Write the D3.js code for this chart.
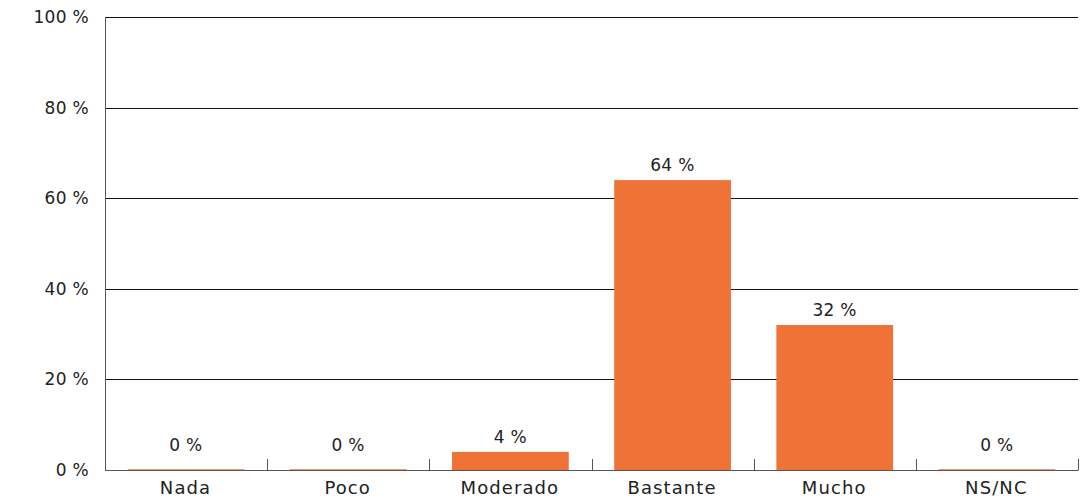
<!DOCTYPE html>
<html><head><meta charset="utf-8">
<script src="https://cdn.jsdelivr.net/npm/d3@7"></script>
<style>body{margin:0;background:#fff}svg{display:block}text{font-family:"DejaVu Sans",sans-serif;fill:#222}</style>
</head><body>
<svg id="c" width="1084" height="499"></svg>
<script>
const categories = ["Nada","Poco","Moderado","Bastante","Mucho","NS/NC"];
const values = [0,0,4,64,32,0];
const yTicks = [0,20,40,60,80,100];

const svg = d3.select("#c");
const m = {l:105, r:1078, t:17, b:470};
const x = d3.scaleBand().domain(categories).range([m.l, m.r]).paddingInner(0.28).paddingOuter(0.14);
const y = d3.scaleLinear().domain([0,100]).range([m.b, m.t]);
const fs = 17;

// gridlines
svg.append("g").selectAll("line").data(yTicks.filter(d=>d>0)).join("line")
  .attr("x1", m.l).attr("x2", m.r)
  .attr("y1", d=>Math.round(y(d))+0.5).attr("y2", d=>Math.round(y(d))+0.5)
  .attr("stroke", "#111").attr("stroke-width", 1);

// y labels
svg.append("g").selectAll("text").data(yTicks).join("text")
  .attr("x", 89).attr("y", d=>y(d)).attr("dy","0.35em")
  .attr("text-anchor","end").attr("font-size", fs).attr("letter-spacing", 0.3)
  .text(d=>d+" %");

// left axis line
svg.append("line").attr("x1", m.l+0.5).attr("x2", m.l+0.5).attr("y1", m.t).attr("y2", m.b)
  .attr("stroke","#555").attr("stroke-width",1);

// bottom axis
svg.append("line").attr("x1", m.l).attr("x2", m.r+0.5).attr("y1", m.b+0.5).attr("y2", m.b+0.5)
  .attr("stroke","#555").attr("stroke-width",1.2);
const step = (m.r - m.l)/categories.length;
svg.append("g").selectAll("line").data(categories.map((c,i)=>i+1)).join("line")
  .attr("x1", i=>Math.round(m.l + i*step)+0.5).attr("x2", i=>Math.round(m.l + i*step)+0.5)
  .attr("y1", m.b-11).attr("y2", m.b)
  .attr("stroke","#555").attr("stroke-width",1);

// bars
svg.append("g").selectAll("rect").data(values).join("rect")
  .attr("x", (d,i)=>x(categories[i])).attr("width", x.bandwidth())
  .attr("y", d=> d===0 ? m.b-0.5 : y(d)).attr("height", d=> d===0 ? 1.5 : y(0)-y(d))
  .attr("fill", (d)=> d===0 ? "#8a4a30" : "#EF7336");

// value labels
svg.append("g").selectAll("text").data(values).join("text")
  .attr("x",(d,i)=>x(categories[i])+x.bandwidth()/2 - 0.15)
  .attr("y", d=> d===0 ? y(d)-19 : y(d)-9)
  .attr("text-anchor","middle").attr("font-size", fs).attr("letter-spacing", 0.3)
  .text(d=>d+" %");

// category labels
svg.append("g").selectAll("text").data(categories).join("text")
  .attr("x", d=>x(d)+x.bandwidth()/2 - 0.55).attr("y", 488).attr("dy","0.35em")
  .attr("text-anchor","middle").attr("font-size", 18).attr("letter-spacing", 1.1)
  .text(d=>d);
</script>
</body></html>
